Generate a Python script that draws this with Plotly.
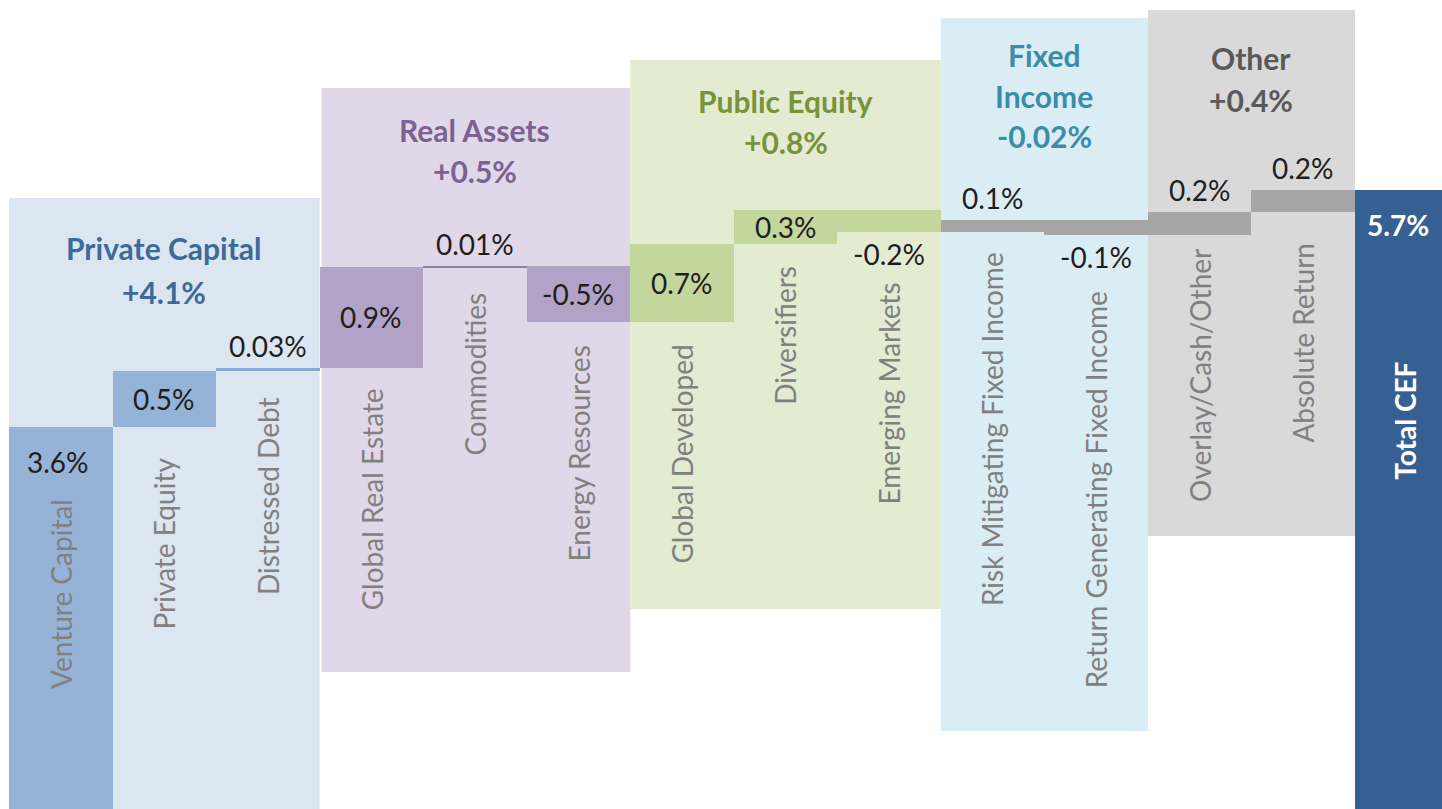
import numpy as np
import plotly.graph_objects as go

# ---------------- data ----------------
categories = ["Venture Capital", "Private Equity", "Distressed Debt",
              "Global Real Estate", "Commodities", "Energy Resources",
              "Global Developed", "Diversifiers", "Emerging Markets",
              "Risk Mitigating Fixed Income", "Return Generating Fixed Income",
              "Overlay/Cash/Other", "Absolute Return", "Total CEF"]
contrib = [3.6, 0.5, 0.03, 0.9, 0.01, -0.5, 0.7, 0.3, -0.2, 0.11, -0.13, 0.2, 0.2]
value_labels = ["3.6%", "0.5%", "0.03%", "0.9%", "0.01%", "-0.5%", "0.7%",
                "0.3%", "-0.2%", "0.1%", "-0.1%", "0.2%", "0.2%", "5.7%"]
group_names = ["Private Capital", "Real Assets", "Public Equity", "Fixed<br>Income", "Other"]
group_totals = ["+4.1%", "+0.5%", "+0.8%", "-0.02%", "+0.4%"]
group_sizes = [3, 3, 3, 2, 2]

# ---------------- styles ----------------
FONT = "Lato"
W, H = 1442, 809
Y_LO, Y_HI = 0.188, 7.417
bar_colors = ["#95b3d7", "#95b3d7", "#8aaad6",
              "#b3a2c7", "#8c849c", "#b3a2c7",
              "#c3d69b", "#c3d69b", "#c3d69b",
              "#a6a6a6", "#a6a6a6", "#a6a6a6", "#a6a6a6",
              "#376092"]
group_bg = ["#dce6f1", "#e0d8e8", "#e3ebd1", "#dbedf4", "#d9d9d9"]
group_fg = ["#3c6a9a", "#7b6290", "#77933c", "#3a8ca8", "#595959"]
group_top_px = [198, 88, 60, 18, 10]
group_bot_px = [900, 672, 609, 731, 536]
group_pad_px = [0, 2, 0, 0, 0]
title_lines_px = [[248, 292], [130, 171], [101, 142], [55, 96, 136], [58, 100]]
# value label placement: 'topin', 'mid', 'above', 'below'
label_mode = ["topin", "mid", "above", "mid", "above", "mid", "mid", "mid",
              "below", "above", "below", "above", "above", "topin"]
# gap (px) between bar end and category label
cat_gap = [70, 28, 24, 18, 23, 21, 21, 20, 48, 18, 55, 12, 28, 170]
COL_PX = 103.54

# ---------------- derived ----------------
n = len(categories)
xs = np.arange(n)
steps = np.array(contrib)
ends = np.cumsum(steps)
starts = ends - steps
bases = np.append(starts, 0.0)
heights = np.append(steps, ends[-1])
tops = np.maximum(bases, bases + heights)
bottoms = np.minimum(bases, bases + heights)

fig = go.Figure()
fig.add_trace(go.Bar(x=xs, y=heights, base=bases, width=1.0,
                     marker=dict(color=bar_colors, line=dict(width=0)),
                     hoverinfo="skip", showlegend=False))

def py(px):
    return 1 - px / H

shapes = []
annotations = []
start = 0
for g, size in enumerate(group_sizes):
    x0 = start - 0.5
    x1 = start + size - 0.5
    shapes.append(dict(type="rect", xref="x", yref="paper",
                       x0=x0 + group_pad_px[g] / COL_PX, x1=x1,
                       y0=py(group_bot_px[g]), y1=py(group_top_px[g]),
                       fillcolor=group_bg[g], line=dict(width=0), layer="below"))
    lines = group_names[g].split("<br>") + [group_totals[g]]
    for li, text in enumerate(lines):
        annotations.append(dict(x=(x0 + x1) / 2, y=py(title_lines_px[g][li]),
                                xref="x", yref="paper", text="<b>%s</b>" % text,
                                showarrow=False, xanchor="center", yanchor="middle",
                                font=dict(family=FONT, size=30, color=group_fg[g])))
    start += size

for i in range(n):
    is_total = i == n - 1
    col = "white" if is_total else "#1e1e1e"
    txt = "<b>%s</b>" % value_labels[i] if is_total else value_labels[i]
    mode = label_mode[i]
    xshift = -9 if is_total else -3 if i == 0 else 0
    if mode == "mid":
        y, ya, ys = (tops[i] + bottoms[i]) / 2, "middle", 0
    elif mode == "topin":
        y, ya, ys = tops[i], "top", -16
    elif mode == "above":
        y, ya, ys = tops[i], "bottom", 3
    else:
        y, ya, ys = bottoms[i], "top", -3
    annotations.append(dict(x=xs[i], y=y, xref="x", yref="y", text=txt,
                            showarrow=False, xanchor="center", yanchor=ya,
                            yshift=ys, xshift=xshift,
                            font=dict(family=FONT, size=28, color=col)))
    # category label
    anchor_y = tops[i] if mode == "topin" else bottoms[i]
    ctxt = "<b>%s</b>" % categories[i] if is_total else categories[i]
    ccol = "white" if is_total else "#808080"
    annotations.append(dict(x=xs[i], y=anchor_y, xref="x", yref="y", text=ctxt,
                            showarrow=False, textangle=-90, xanchor="center",
                            yanchor="top", yshift=-cat_gap[i],
                            xshift=-2 if is_total else 0,
                            font=dict(family=FONT, size=28, color=ccol)))

fig.update_layout(
    width=W, height=H,
    margin=dict(l=9, r=0, t=0, b=0),
    paper_bgcolor="white", plot_bgcolor="white",
    xaxis=dict(range=[-0.5, -0.5 + (W - 9) / COL_PX], visible=False, fixedrange=True),
    yaxis=dict(range=[Y_LO, Y_HI], visible=False, fixedrange=True),
    bargap=0, shapes=shapes, annotations=annotations,
)

fig.write_html("out.html", config={"displayModeBar": False},
               post_script="document.body.style.margin='0';")
